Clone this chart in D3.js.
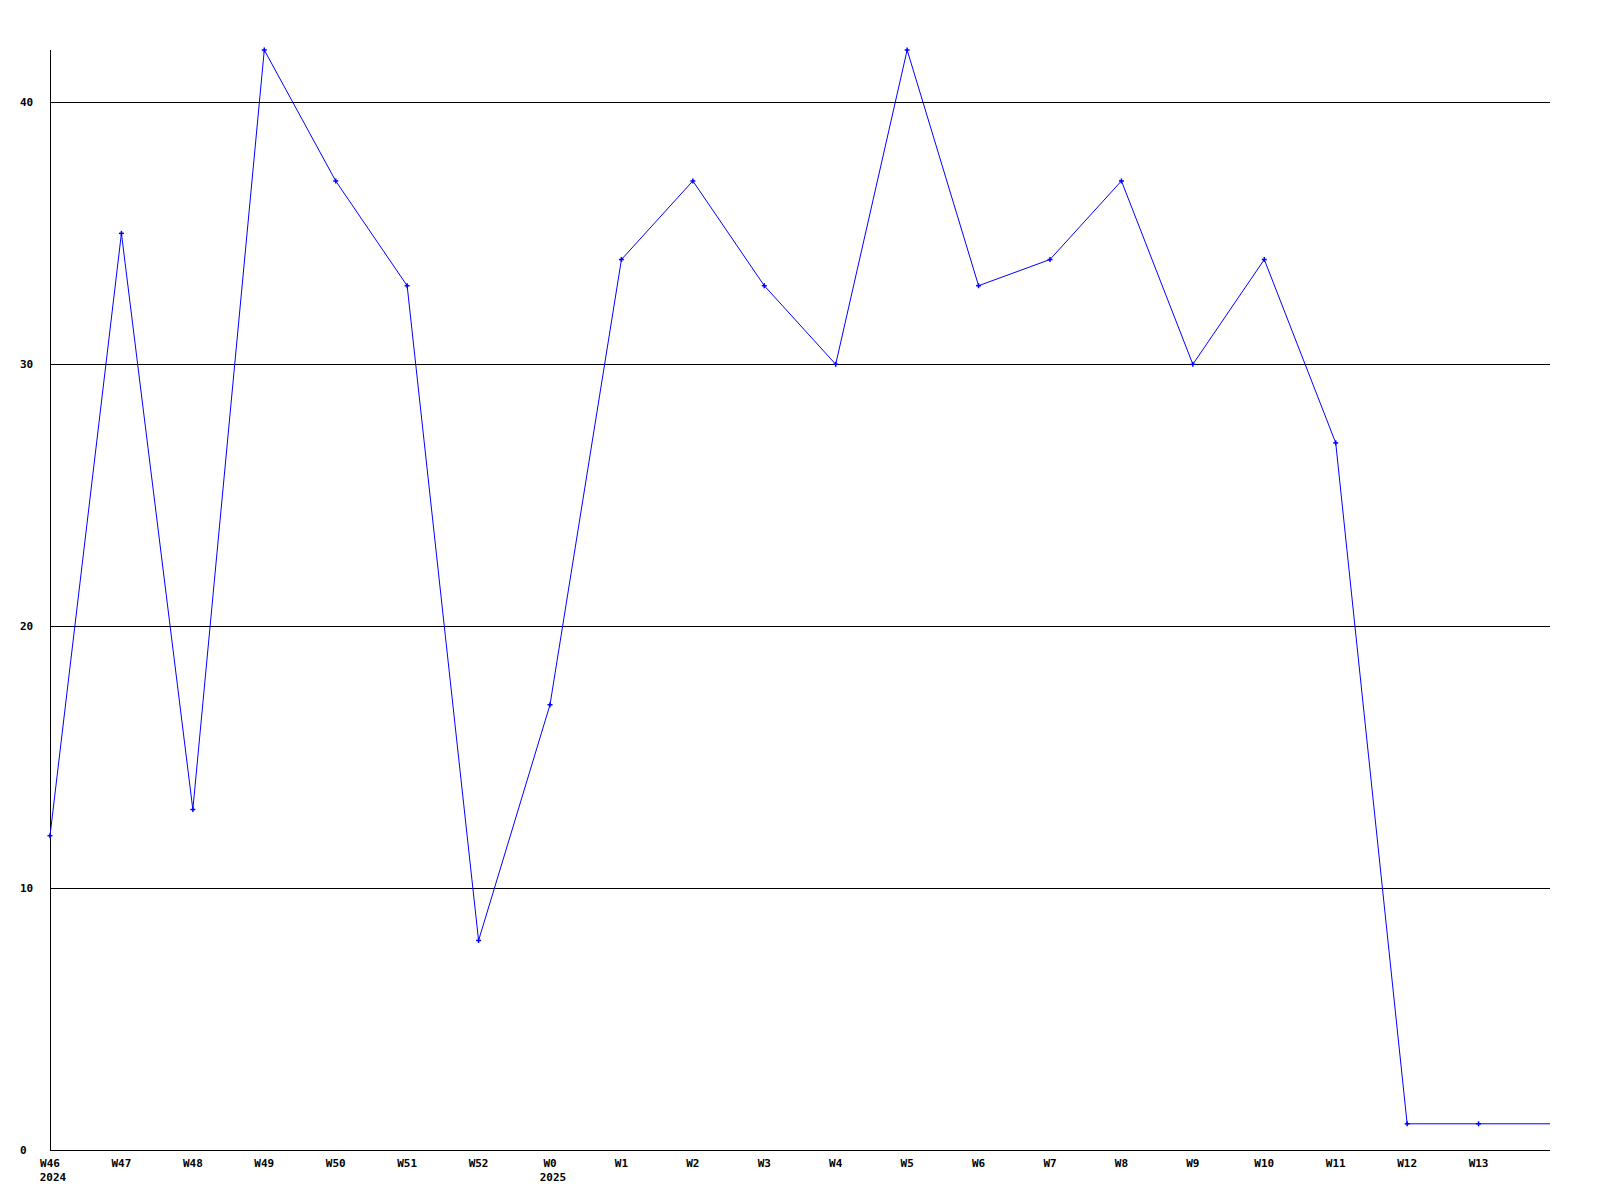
<!DOCTYPE html>
<html>
<head>
<meta charset="utf-8">
<script src="https://cdn.jsdelivr.net/npm/d3@7"></script>
<style>
  html, body { margin: 0; padding: 0; background: #fff; }
  svg { display: block; }
  text { font-family: "DejaVu Sans Mono", "Liberation Mono", monospace; font-weight: bold; font-size: 11px; fill: #000; }
</style>
</head>
<body>
<svg id="chart" width="1600" height="1200"></svg>
<script>
const weeks = ["W46","W47","W48","W49","W50","W51","W52","W0","W1","W2","W3","W4","W5","W6","W7","W8","W9","W10","W11","W12","W13"];
const years = {"W46": "2024", "W0": "2025"};
const values = [12,35,13,42,37,33,8,17,34,37,33,30,42,33,34,37,30,34,27,1,1];
const yTicks = [0,10,20,30,40];

(function () {
const svg = d3.select("#chart");
const pLeft = 50, pRight = 1550, pTop = 50, pBottom = 1150;

const x = d3.scaleLinear().domain([0, weeks.length]).range([pLeft, pRight]);
const y = d3.scaleLinear().domain([0, 42]).range([pBottom, pTop]);

// gridlines
svg.append("g").selectAll("line").data(yTicks.filter(d => d > 0)).join("line")
  .attr("x1", pLeft).attr("x2", pRight)
  .attr("y1", d => Math.round(y(d)) + 0.5).attr("y2", d => Math.round(y(d)) + 0.5)
  .attr("stroke", "#000").attr("stroke-width", 1);

// axes lines
svg.append("line").attr("x1", pLeft + 0.5).attr("x2", pLeft + 0.5).attr("y1", pTop).attr("y2", pBottom + 0.5)
  .attr("stroke", "#000");
svg.append("line").attr("x1", pLeft).attr("x2", pRight).attr("y1", pBottom + 0.5).attr("y2", pBottom + 0.5)
  .attr("stroke", "#000");

// y labels
svg.append("g").selectAll("text").data(yTicks).join("text")
  .attr("x", 20).attr("y", d => y(d) + 4)
  .text(d => d);

// x labels
const xl = svg.append("g");
weeks.forEach((w, i) => {
  xl.append("text").attr("x", x(i)).attr("y", 1167).attr("text-anchor", "middle").text(w);
  if (years[w]) xl.append("text").attr("x", x(i) + 3).attr("y", 1181).attr("text-anchor", "middle").text(years[w]);
});

// line (extends flat to right edge)
const pts = values.map((v, i) => [x(i), y(v)]);
pts.push([x(weeks.length), y(values[values.length - 1])]);
svg.append("path").attr("d", d3.line()(pts))
  .attr("fill", "none").attr("stroke", "#0000ff").attr("stroke-width", 1);

// markers
const mk = svg.append("g").attr("stroke", "#0000ff").attr("stroke-width", 1.5);
values.forEach((v, i) => {
  const cx = x(i), cy = y(v);
  mk.append("line").attr("x1", cx - 2.5).attr("x2", cx + 2.5).attr("y1", cy).attr("y2", cy);
  mk.append("line").attr("x1", cx).attr("x2", cx).attr("y1", cy - 2.5).attr("y2", cy + 2.5);
});
})();
</script>
</body>
</html>
